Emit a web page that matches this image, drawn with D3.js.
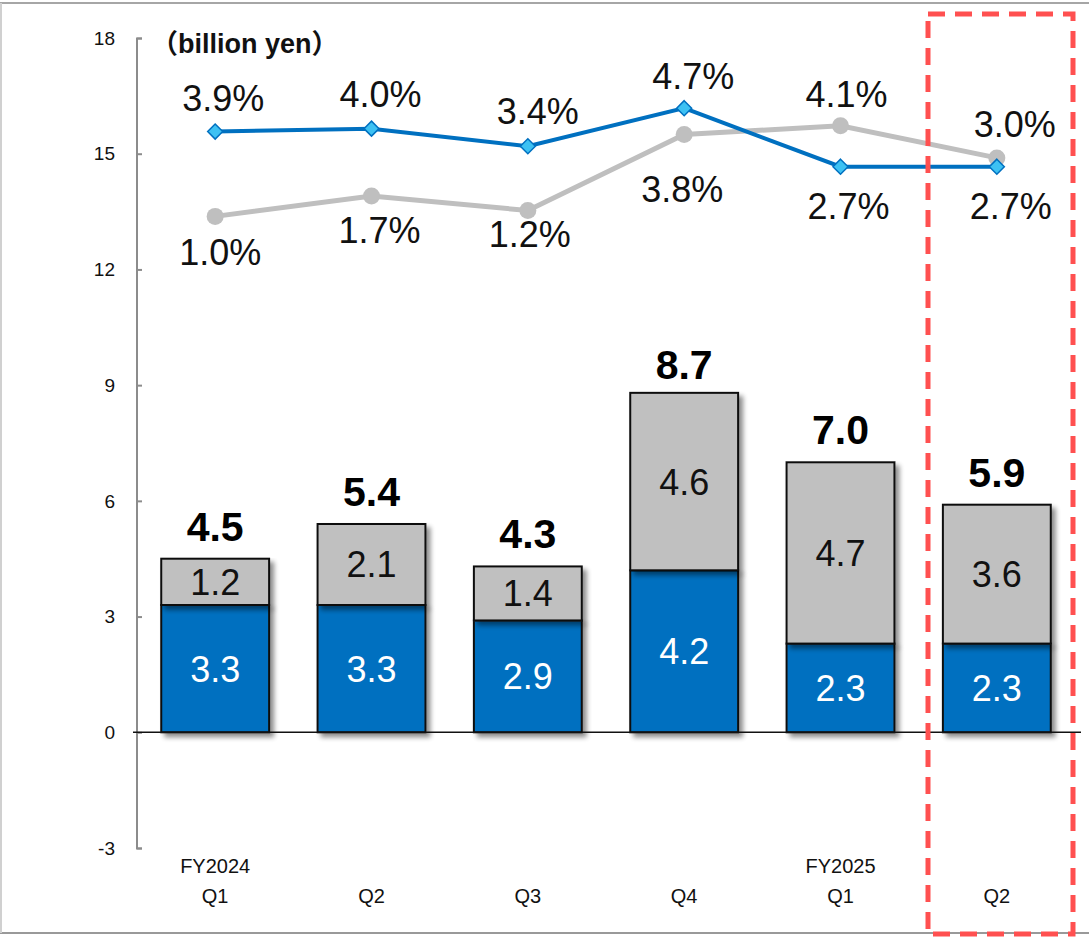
<!DOCTYPE html>
<html><head><meta charset="utf-8">
<script src="https://cdn.jsdelivr.net/npm/d3@7/dist/d3.min.js"></script>
<style>body{margin:0;background:#fff}svg{display:block}text{font-family:"Liberation Sans",Arial,"Noto Sans CJK JP",sans-serif}</style>
</head><body><svg id="c" width="1089" height="937"></svg>
<script>
const quarters = ["Q1","Q2","Q3","Q4","Q1","Q2"];
const fiscalYears = ["FY2024","","","","FY2025",""];
const blueValues = [3.3,3.3,2.9,4.2,2.3,2.3];
const grayValues = [1.2,2.1,1.4,4.6,4.7,3.6];
const totals = [4.5,5.4,4.3,8.7,7.0,5.9];
const bluePct = [3.9,4.0,3.4,4.7,2.7,2.7];
const grayPct = [1.0,1.7,1.2,3.8,4.1,3.0];
const yTicks = [-3,0,3,6,9,12,15,18];
const unitLabel = "（billion yen）";

// layout nudges for percentage labels (pixels, relative to marker)
const blueLabelDx = [8,9,10,9,8,14];
const blueLabelDy = [-21,-22,-22,-19,52,52];
const grayLabelDx = [5,8,2,-2,6,18];
const grayLabelDy = [49,47,36,68,-19,-21];

const svg = d3.select("#c");
const W = 1089;
const BLUE = "#0070C0", GRAY = "#BFBFBF";

// outer frame
svg.append("line").attr("x1",0).attr("x2",W).attr("y1",3).attr("y2",3).attr("stroke","#a6a6a6").attr("stroke-width",2);
svg.append("line").attr("x1",0).attr("x2",W).attr("y1",933).attr("y2",933).attr("stroke","#999").attr("stroke-width",2);
svg.append("line").attr("x1",1).attr("x2",1).attr("y1",3).attr("y2",933).attr("stroke","#d0d0d0").attr("stroke-width",2);

const defs = svg.append("defs");
const f = defs.append("filter").attr("id","sh").attr("x","-10%").attr("y","-10%").attr("width","130%").attr("height","130%");
f.append("feGaussianBlur").attr("in","SourceAlpha").attr("stdDeviation",2.5);
f.append("feOffset").attr("dx",4).attr("dy",4).attr("result","b");
f.append("feComponentTransfer").append("feFuncA").attr("type","linear").attr("slope",0.45);
const m = f.append("feMerge"); m.append("feMergeNode"); m.append("feMergeNode").attr("in","SourceGraphic");

const y = d3.scaleLinear().domain([-3,18]).range([848,38]);
// secondary (hidden) percentage axis
const y2 = d3.scaleLinear().domain([-20.6,7.1]).range([848,38]);
const x = d3.scaleBand().domain(d3.range(6)).range([137,1075]).paddingInner(0.31).paddingOuter(0.155);

// y axis
const ax = svg.append("g").attr("transform","translate(137,0)")
  .call(d3.axisRight(y).tickValues(yTicks).tickSize(5).tickFormat(""));
ax.select(".domain").attr("stroke","#8c8c8c").attr("stroke-width",2).attr("d","M5,38.5H0V848.5H5");
ax.selectAll(".tick line").attr("stroke","#8c8c8c").attr("stroke-width",2);
svg.append("g").selectAll("text").data(yTicks).join("text")
  .attr("x",115).attr("y",d=>y(d)).attr("dy","0.35em").attr("text-anchor","end")
  .attr("font-size",19).attr("fill","#111").text(d=>d);

// bars
const bars = svg.append("g");
const bw = x.bandwidth();
bars.selectAll("rect.b").data(blueValues).join("rect").attr("class","b")
  .attr("x",(d,i)=>x(i)).attr("width",bw).attr("y",d=>y(d)).attr("height",d=>y(0)-y(d))
  .attr("fill",BLUE).attr("stroke","#111").attr("stroke-width",2).attr("filter","url(#sh)");
bars.selectAll("rect.g").data(grayValues).join("rect").attr("class","g")
  .attr("x",(d,i)=>x(i)).attr("width",bw).attr("y",(d,i)=>y(blueValues[i]+d)).attr("height",(d,i)=>y(blueValues[i])-y(blueValues[i]+d))
  .attr("fill","#C0C0C0").attr("stroke","#111").attr("stroke-width",2).attr("filter","url(#sh)");

// zero line
svg.append("line").attr("x1",133).attr("x2",1081).attr("y1",y(0)).attr("y2",y(0)).attr("stroke","#111").attr("stroke-width",1.5);

// bar labels
const cx = i => x(i)+bw/2;
svg.append("g").selectAll("text").data(blueValues).join("text")
  .attr("x",(d,i)=>cx(i)).attr("y",d=>(y(d)+y(0))/2).attr("dy","0.36em").attr("text-anchor","middle")
  .attr("font-size",36).attr("fill","#fff").text(d=>d.toFixed(1));
svg.append("g").selectAll("text").data(grayValues).join("text")
  .attr("x",(d,i)=>cx(i)).attr("y",(d,i)=>(y(blueValues[i])+y(blueValues[i]+d))/2).attr("dy","0.36em").attr("text-anchor","middle")
  .attr("font-size",36).attr("fill","#111").text(d=>d.toFixed(1));
svg.append("g").selectAll("text").data(totals).join("text")
  .attr("x",(d,i)=>cx(i)).attr("y",d=>y(d)-18).attr("text-anchor","middle")
  .attr("font-size",41).attr("font-weight","bold").attr("fill","#000").text(d=>d.toFixed(1));

// lines
const line = d3.line().x((d,i)=>cx(i)).y(d=>y2(d));
svg.append("path").datum(grayPct).attr("d",line).attr("fill","none").attr("stroke",GRAY).attr("stroke-width",5);
svg.append("g").selectAll("circle").data(grayPct).join("circle")
  .attr("cx",(d,i)=>cx(i)).attr("cy",d=>y2(d)).attr("r",8.5).attr("fill",GRAY);
svg.append("path").datum(bluePct).attr("d",line).attr("fill","none").attr("stroke",BLUE).attr("stroke-width",4);
svg.append("g").selectAll("path.mk").data(bluePct).join("path").attr("class","mk")
  .attr("d","M0,-7.5L7.5,0L0,7.5L-7.5,0Z")
  .attr("transform",(d,i)=>`translate(${cx(i)},${y2(d)})`)
  .attr("fill","#3DC1F3").attr("stroke",BLUE).attr("stroke-width",1.5);

// pct labels
function pctLabels(data, dx, dy){
  svg.append("g").selectAll("text").data(data).join("text")
    .attr("x",(d,i)=>cx(i)+dx[i])
    .attr("y",(d,i)=>y2(d)+dy[i])
    .attr("text-anchor","middle").attr("font-size",36).attr("fill","#111")
    .text(d=>d.toFixed(1)+"%");
}
pctLabels(bluePct, blueLabelDx, blueLabelDy);
pctLabels(grayPct, grayLabelDx, grayLabelDy);

// x labels
svg.append("g").selectAll("text").data(fiscalYears).join("text")
  .attr("x",(d,i)=>cx(i)).attr("y",873).attr("text-anchor","middle").attr("font-size",20).attr("fill","#111").text(d=>d);
svg.append("g").selectAll("text").data(quarters).join("text")
  .attr("x",(d,i)=>cx(i)).attr("y",903).attr("text-anchor","middle").attr("font-size",20).attr("fill","#111").text(d=>d);

// unit label
svg.append("text").attr("x",151).attr("y",53).attr("font-size",27).attr("font-weight","bold").attr("fill","#111").text(unitLabel);

// highlight box
svg.append("rect").attr("x",928).attr("y",14).attr("width",145).attr("height",920)
  .attr("fill","none").attr("stroke","#FF5050").attr("stroke-width",5).attr("stroke-dasharray","17,10");
</script></body></html>
